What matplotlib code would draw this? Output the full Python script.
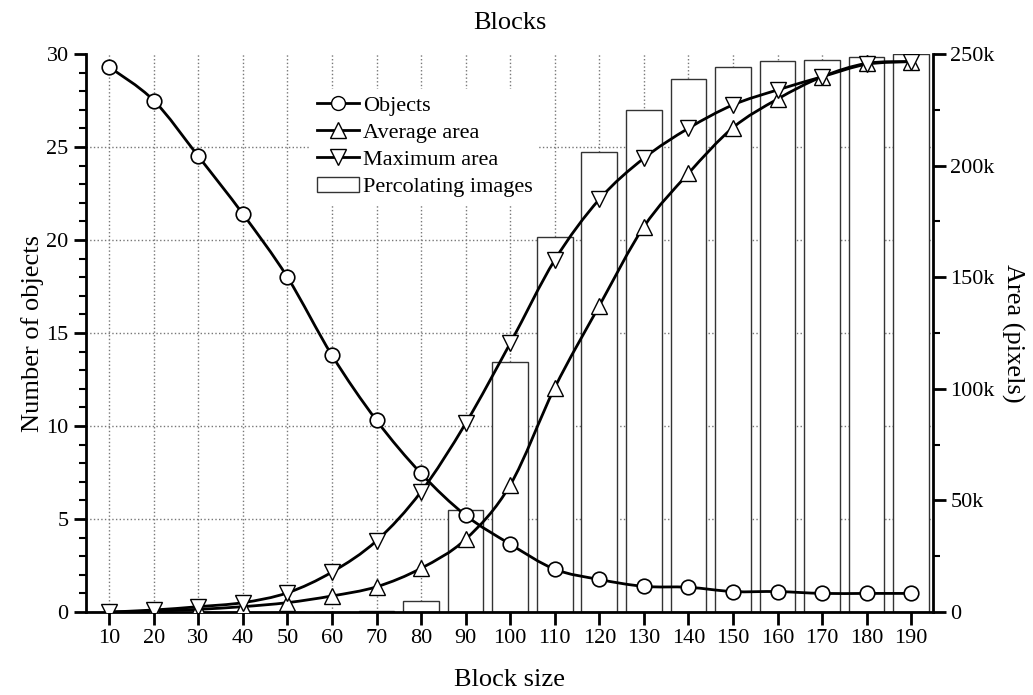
import matplotlib.pyplot as plt
import numpy as np
from matplotlib.path import Path
from matplotlib.patches import PathPatch
from matplotlib.lines import Line2D
from matplotlib.ticker import MultipleLocator, FuncFormatter

plt.rcParams['font.family'] = ['Liberation Serif', 'DejaVu Serif']

# Data
block_size = [10, 20, 30, 40, 50, 60, 70, 80, 90, 100,
              110, 120, 130, 140, 150, 160, 170, 180, 190]
objects = [29.3, 27.5, 24.5, 21.4, 18.0, 13.8, 10.3, 7.45, 5.2, 3.65,
           2.3, 1.75, 1.38, 1.33, 1.1, 1.1, 1.0, 1.0, 1.0]
avg_area = [0, 400, 1200, 2400, 4200, 7200, 11300, 19600, 32600, 56900,
            100500, 137200, 172600, 196500, 217000, 229800, 239800, 245800, 246600]
max_area = [0, 900, 2400, 4200, 8600, 17900, 31900, 53900, 84500, 120400,
            157700, 184900, 203300, 216700, 227200, 233900, 239800, 245400, 246600]
percolating = [0, 0, 0, 0, 0, 0, 0.05, 0.6, 5.48, 13.43,
               20.18, 24.73, 26.99, 28.64, 29.3, 29.6, 29.68, 29.82, 29.98]


def smooth_line(ax, x, y, **kw):
    # spline-like connector (Catmull-Rom drawn as Bezier segments)
    x = np.asarray(x, float)
    y = np.asarray(y, float)
    px = np.concatenate([[x[0]], x, [x[-1]]])
    py = np.concatenate([[y[0]], y, [y[-1]]])
    verts = [(x[0], y[0])]
    codes = [Path.MOVETO]
    for i in range(1, len(x)):
        c1 = (px[i] + (px[i + 1] - px[i - 1]) / 6, py[i] + (py[i + 1] - py[i - 1]) / 6)
        c2 = (px[i + 1] - (px[i + 2] - px[i]) / 6, py[i + 1] - (py[i + 2] - py[i]) / 6)
        verts += [c1, c2, (x[i], y[i])]
        codes += [Path.CURVE4] * 3
    ax.add_patch(PathPatch(Path(verts, codes), fill=False, **kw))


fig = plt.figure(figsize=(10.33, 6.95), dpi=100)
ax = fig.add_axes([0.0833, 0.1194, 0.8199, 0.8029])
ax2 = ax.twinx()

# Bars (left axis)
bars = ax.bar(block_size, percolating, width=8, color='white',
              edgecolor='#333333', linewidth=1.0, zorder=2, label='Percolating images')

# Objects (left axis)
smooth_line(ax, block_size, objects, edgecolor='black', lw=2, zorder=3)
ax.plot(block_size, objects, ls='none', marker='o', ms=10.5,
        mfc='white', mec='black', mew=1.2, zorder=4)

# Areas (right axis)
smooth_line(ax2, block_size, avg_area, edgecolor='black', lw=2, zorder=3)
smooth_line(ax2, block_size, max_area, edgecolor='black', lw=2, zorder=3)
ax2.plot(block_size, avg_area, ls='none', marker='^', ms=11.5,
         mfc='white', mec='black', mew=1.0, zorder=4)
ax2.plot(block_size, max_area, ls='none', marker='v', ms=11.5,
         mfc='white', mec='black', mew=1.0, zorder=4)

ax.set_xlim(4.8, 194.9)
ax.set_ylim(0, 30)
ax2.set_ylim(0, 250000)
ax.set_xticks(block_size)
ax.yaxis.set_major_locator(MultipleLocator(5))
ax.yaxis.set_minor_locator(MultipleLocator(1))
ax2.yaxis.set_major_locator(MultipleLocator(50000))
ax2.yaxis.set_minor_locator(MultipleLocator(25000))
ax2.yaxis.set_major_formatter(FuncFormatter(lambda v, p: '0' if v == 0 else '%dk' % (v / 1000)))

ax.grid(True, which='major', color='#777777', linestyle=':', linewidth=1.0)
ax.set_axisbelow(True)
for gl in ax.yaxis.get_gridlines():
    gl.set_visible(False)
for v in [5, 10, 15, 20, 25]:
    ax.axhline(v, color='#777777', linestyle=':', linewidth=1.0, zorder=0.5)

for a in (ax, ax2):
    a.spines['top'].set_visible(False)
    for s in ('left', 'right', 'bottom'):
        a.spines[s].set_linewidth(2)
ax.spines['right'].set_visible(False)
ax2.spines['left'].set_visible(False)
ax2.spines['bottom'].set_visible(False)

ax.tick_params(axis='both', which='major', labelsize=16, length=9, width=2, direction='out')
ax.tick_params(axis='y', which='minor', length=5, width=1.5, direction='out')
ax2.tick_params(axis='y', which='major', labelsize=16, length=9, width=2, direction='out')
ax2.tick_params(axis='y', which='minor', length=5, width=1.5, direction='out')

ax.set_xlabel('Block size', fontsize=19, labelpad=15)
ax.set_ylabel('Number of objects', fontsize=19, labelpad=2)
ax2.set_ylabel('Area (pixels)', fontsize=19, rotation=-90, labelpad=21)
ax.set_title('Blocks', fontsize=19, pad=18)

h1 = Line2D([], [], color='black', lw=2, marker='o', ms=10, mfc='white', mec='black')
h2 = Line2D([], [], color='black', lw=2, marker='^', ms=11, mfc='white', mec='black')
h3 = Line2D([], [], color='black', lw=2, marker='v', ms=11, mfc='white', mec='black')
leg = ax2.legend(handles=[h1, h2, h3, bars],
                 labels=['Objects', 'Average area', 'Maximum area', 'Percolating images'],
                 loc='upper left', bbox_to_anchor=(0.252, 0.958), frameon=True, fontsize=16,
                 handlelength=1.9, handletextpad=0.15, labelspacing=0.3,
                 borderpad=0.3)
leg.get_frame().set_edgecolor('none')
leg.get_frame().set_facecolor('white')
leg.get_frame().set_alpha(1)
leg.set_zorder(10)

fig.savefig('out.png', dpi=100)
